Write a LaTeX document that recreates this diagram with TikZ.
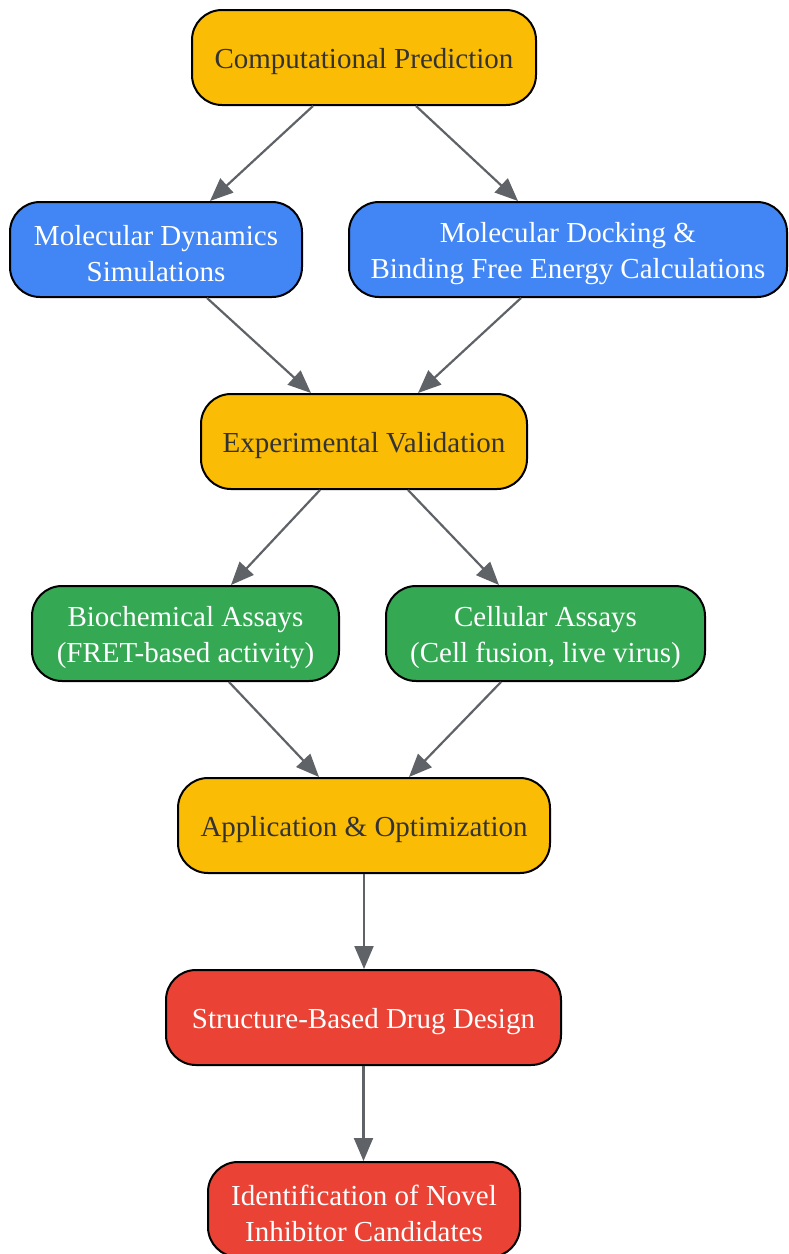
\documentclass[tikz,border=0pt]{standalone}
\usepackage{fontspec}
\setmainfont{Liberation Serif}
\usetikzlibrary{arrows.meta}
\definecolor{gyellow}{HTML}{FBBC05}
\definecolor{gblue}{HTML}{4285F4}
\definecolor{ggreen}{HTML}{34A853}
\definecolor{gred}{HTML}{EA4335}
\definecolor{ggray}{HTML}{5F6368}
\definecolor{darktext}{HTML}{333333}
\tikzset{
  box/.style={draw=black, line width=2pt, rounded corners=30pt, minimum height=95pt,
    align=center, inner sep=0pt, font=\fontsize{29}{36}\selectfont,
    execute at begin node={\rule{0pt}{29pt}}},
  twolines/.style={execute at begin node={\rule{0pt}{65pt}}},
  phase/.style={box, fill=gyellow, text=darktext},
  method/.style={box, twolines, fill=gblue, text=white},
  assay/.style={box, twolines, fill=ggreen, text=white},
  result/.style={box, fill=gred, text=white},
  link/.style={ggray, line width=2.2pt, -{Triangle[length=23pt,width=19pt]}}
}

\begin{document}
\begin{tikzpicture}[x=1pt,y=-1pt]
\useasboundingbox (0,0) rectangle (789,1254);
\node[phase, minimum width=344pt] (comp) at (364,57.5) {Computational Prediction};
\node[method, minimum width=292pt] (md) at (156,249.5) {Molecular Dynamics\\Simulations};
\node[method, minimum width=438pt] (dock) at (568,249.5) {Molecular Docking \&\\Binding Free Energy Calculations};
\node[phase, minimum width=326pt] (exp) at (364,441.5) {Experimental Validation};
\node[assay, minimum width=307pt] (bio) at (185.5,633.5) {Biochemical Assays\\(FRET-based activity)};
\node[assay, minimum width=319pt] (cell) at (545.5,633.5) {Cellular Assays\\(Cell fusion, live virus)};
\node[phase, minimum width=372pt] (app) at (364,825.5) {Application \& Optimization};
\node[result, minimum width=395pt] (sbdd) at (363.5,1017.5) {Structure-Based Drug Design};
\node[result, twolines, minimum width=312pt] (ident) at (364,1209.5) {Identification of Novel\\Inhibitor Candidates};
% connectors
\draw[link] ([xshift=-51pt]comp.south) -- ([xshift=54pt]md.north);
\draw[link] ([xshift=52pt]comp.south) -- ([xshift=-50pt]dock.north);
\draw[link] ([xshift=51pt]md.south) -- ([xshift=-53pt]exp.north);
\draw[link] ([xshift=-47pt]dock.south) -- ([xshift=54pt]exp.north);
\draw[link] ([xshift=-44pt]exp.south) -- ([xshift=45.5pt]bio.north);
\draw[link] ([xshift=44pt]exp.south) -- ([xshift=-46.5pt]cell.north);
\draw[link] ([xshift=43.5pt]bio.south) -- ([xshift=-45pt]app.north);
\draw[link] ([xshift=-44.5pt]cell.south) -- ([xshift=45pt]app.north);
\draw[link] (app.south) -- (app.south |- sbdd.north);
\draw[link] (sbdd.south) -- (sbdd.south |- ident.north);
\end{tikzpicture}
\end{document}
